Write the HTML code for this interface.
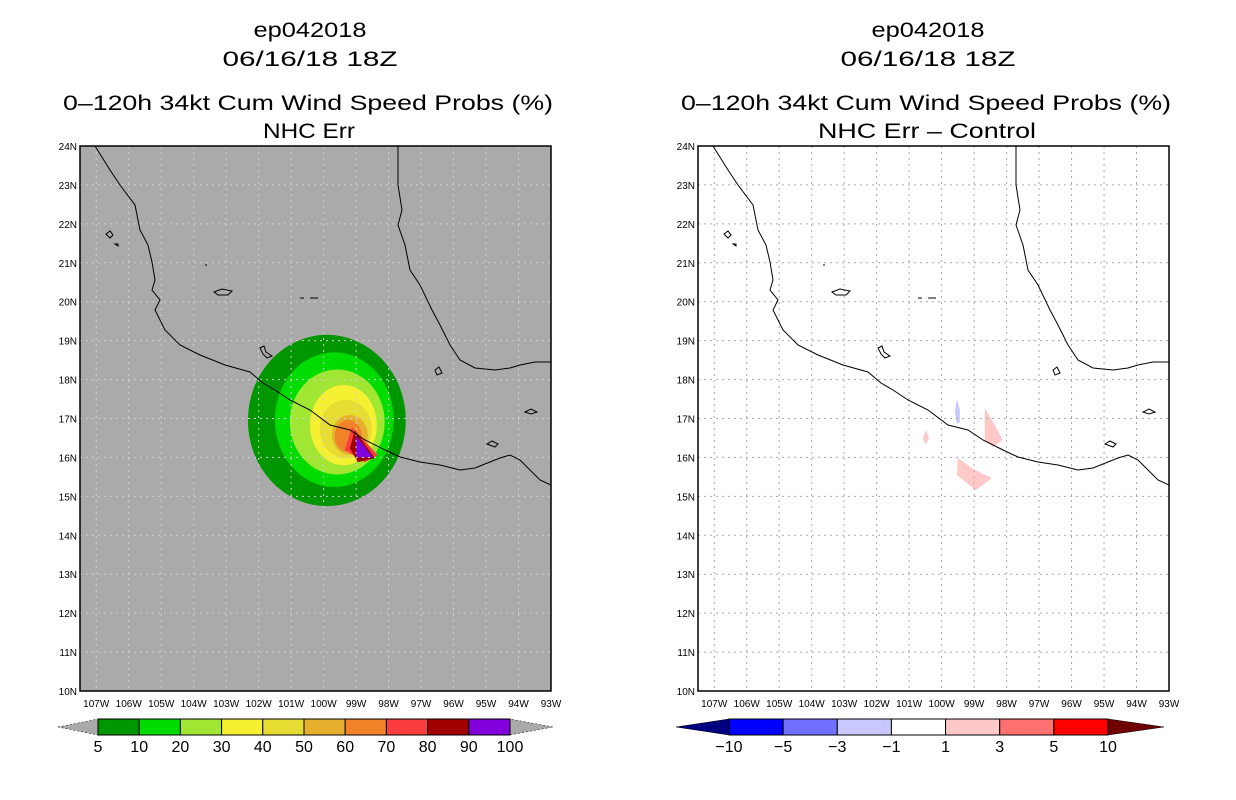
<!DOCTYPE html>
<html><head><meta charset="utf-8"><style>
body{margin:0;background:#fff;}
svg{display:block;font-family:"Liberation Sans",sans-serif;}
</style></head><body>
<svg id="s" width="1236" height="800" viewBox="0 0 1236 800" xmlns="http://www.w3.org/2000/svg">
<g font-size="21" text-anchor="middle" fill="#000" lengthAdjust="spacingAndGlyphs">
<text x="310" y="37" textLength="113" lengthAdjust="spacingAndGlyphs">ep042018</text>
<text x="310" y="66" textLength="175" lengthAdjust="spacingAndGlyphs">06/16/18 18Z</text>
<text x="308" y="110" textLength="490" lengthAdjust="spacingAndGlyphs">0–120h 34kt Cum Wind Speed Probs (%)</text>
<text x="309" y="138" textLength="92" lengthAdjust="spacingAndGlyphs">NHC Err</text>
<text x="928" y="37" textLength="113" lengthAdjust="spacingAndGlyphs">ep042018</text>
<text x="928" y="66" textLength="175" lengthAdjust="spacingAndGlyphs">06/16/18 18Z</text>
<text x="926" y="110" textLength="490" lengthAdjust="spacingAndGlyphs">0–120h 34kt Cum Wind Speed Probs (%)</text>
<text x="927" y="138" textLength="218" lengthAdjust="spacingAndGlyphs">NHC Err – Control</text>
</g>
<g id="L"></g>
<g id="R"></g>
</svg>
<script>
const lonTicks=[-107,-106,-105,-104,-103,-102,-101,-100,-99,-98,-97,-96,-95,-94,-93];
const latTicks=[10,11,12,13,14,15,16,17,18,19,20,21,22,23,24];
const leftLevels=[5,10,20,30,40,50,60,70,80,90,100];
const leftColors=["#009600","#00dc00","#a0e632","#f5f032","#e6dc32","#e6af2d","#f08228","#fa3c3c","#a00000","#8200dc"];
const rightLevels=["-10","-5","-3","-1","1","3","5","10"];
const rightColors=["#0000ff","#7070ff","#c8c8ff","#ffffff","#ffc8c8","#ff7070","#ff0000"];
const ellLevel=[0,1,2,3,4,5,6];
const ellLon=[-99.9,-99.67,-99.58,-99.39,-99.32,-99.19,-99.24];
const ellLat=[16.95,16.97,16.91,16.83,16.73,16.58,16.55];
const ellRx=[2.43,1.83,1.46,1.03,0.8,0.55,0.42];
const ellRy=[2.2,1.73,1.35,1.03,0.75,0.51,0.41];
const polyLeft=[
 {lev:7,pts:[[-99.13,16.78],[-98.33,16.06],[-98.73,15.88],[-99.35,16.19]]},
 {lev:8,pts:[[-99.04,16.7],[-98.42,15.98],[-98.95,15.88],[-99.19,16.24]]},
 {lev:9,pts:[[-99.0,16.55],[-98.48,16.0],[-99.0,16.0]]}
];
const polyRight=[
 {lev:2,pts:[[-99.53,17.5],[-99.44,17.22],[-99.44,16.91],[-99.53,16.86],[-99.59,17.17]]},
 {lev:4,pts:[[-98.67,17.27],[-98.36,16.83],[-98.12,16.45],[-98.42,16.27],[-98.67,16.45]]},
 {lev:4,pts:[[-100.48,16.7],[-100.39,16.5],[-100.48,16.32],[-100.58,16.5]]},
 {lev:4,pts:[[-99.5,15.99],[-98.98,15.68],[-98.45,15.47],[-98.95,15.16],[-99.53,15.55]]}
];
const NS="http://www.w3.org/2000/svg";
function mk(t,a,p){const e=document.createElementNS(NS,t);for(const k in a)e.setAttribute(k,a[k]);p.appendChild(e);return e;}
const W=471,H=545,Y0=146;
function xs(x0){return lon=>x0+(lon+107.5)*W/14.5;}
function ys(lat){return Y0+H-(lat-10)*H/14;}
const pac="M95,146 L110,170 L120,185 L135,205 L140,230 L148,245 L152,262 L155,280 L152,290 L160,300 L155,310 L165,330 L180,345 L200,355 L225,365 L250,372 L263,383 L275,390 L290,400 L310,410 L330,425 L350,430 L365,440 L385,450 L400,457 L420,462 L440,465 L460,470 L475,468 L490,462 L500,458 L510,455 L520,460 L530,470 L540,480 L551,485";
const gulf="M398,146 L398,185 L402,210 L398,225 L405,245 L410,270 L420,285 L432,310 L440,325 L450,345 L460,360 L475,368 L495,370 L510,368 L520,365 L535,362 L551,362";
const isl="M106,234 l4,-3 l3,4 l-3,3z M115,244 l3,0 l0,2z M214,292 l8,-3 l10,2 l-4,4 l-10,0z M260,348 l4,-2 l2,6 l6,4 l-5,2 l-4,-4z M300,298 l4,0 M310,298 l8,0 M435,370 l4,-3 l3,6 l-5,2z M525,412 l6,-3 l6,3 l-6,2z M487,444 l5,-3 l6,3 l-3,3z M205,265 l2,0";
function panel(g,x0,bg,right){
 const X=xs(x0);
 const cp="cp"+x0;
 const d=mk("defs",{},g);const c=mk("clipPath",{id:cp},d);mk("rect",{x:x0,y:Y0,width:W,height:H},c);
 const bgR=mk("rect",{x:x0,y:Y0,width:W,height:H,fill:bg},g);
 
 
 const sh=mk("g",{"clip-path":"url(#"+cp+")"},g);
 
 
 if(!right){
  ellLevel.forEach((lv,i)=>{
   const e=mk("ellipse",{cx:X(ellLon[i]),cy:ys(ellLat[i]),rx:ellRx[i]*W/14.5,ry:ellRy[i]*H/14,fill:leftColors[lv]},sh);
   
   
  });
 }
 (right?polyRight:polyLeft).forEach(p=>{
  const e=mk("polygon",{points:p.pts.map(q=>X(q[0])+","+ys(q[1])).join(" "),fill:(right?rightColors:leftColors)[p.lev]},sh);
  
  
 });
 const gr=mk("g",{stroke:right?"#aaaaaa":"#d0d0d0","stroke-width":1,"stroke-dasharray":"2,4"},g);
 
 
 lonTicks.slice(0,-1).forEach(l=>mk("line",{x1:X(l),x2:X(l),y1:Y0,y2:Y0+H},gr));
 latTicks.slice(1,-1).forEach(l=>mk("line",{x1:x0,x2:x0+W,y1:ys(l),y2:ys(l)},gr));
 const cw=mk("g",{"clip-path":"url(#"+cp+")"},g);
 const co=mk("g",{transform:"translate("+(x0-80)+",0)",fill:"none",stroke:"#000","stroke-width":1},cw);
 
 
 mk("path",{d:pac},co);mk("path",{d:gulf},co);mk("path",{d:isl},co);
 const fr=mk("rect",{x:x0,y:Y0,width:W,height:H,fill:"none",stroke:"#000","stroke-width":1.5},g);
 
 
 const tl=mk("g",{"font-size":"10",fill:"#000"},g);
 
 
 latTicks.forEach(l=>{const t=mk("text",{x:x0-3,y:ys(l)+4,"text-anchor":"end"},tl);t.textContent=l+"N";
  
  });
 lonTicks.forEach(l=>{const t=mk("text",{x:X(l),y:Y0+H+16,"text-anchor":"middle"},tl);t.textContent=(-l)+"W";
  
  });
 const cb=mk("g",{},g);
 
 
 const y1=719,y2=735,ym=727;
 let bx0,bx1,tl0,tr1,cols,labs,lc,rc;
 if(!right){bx0=98;bx1=510;tl0=58;tr1=553;cols=leftColors;labs=leftLevels;lc="#aaaaaa";rc="#aaaaaa";}
 else{bx0=729;bx1=1108;tl0=676;tr1=1164;cols=rightColors;labs=rightLevels;lc="#000080";rc="#6e0000";}
 const sw=(bx1-bx0)/cols.length;
 mk("polygon",{points:`${tl0},${ym} ${bx0},${y1} ${bx0},${y2}`,fill:lc,stroke:"#000","stroke-width":0.5,"stroke-dasharray":right?"":"2,2"},cb);
 mk("polygon",{points:`${tr1},${ym} ${bx1},${y1} ${bx1},${y2}`,fill:rc,stroke:"#000","stroke-width":0.5,"stroke-dasharray":right?"":"2,2"},cb);
 cols.forEach((c,i)=>{const r=mk("rect",{x:bx0+i*sw,y:y1,width:sw,height:y2-y1,fill:c,stroke:"#000","stroke-width":1},cb);
  
  });
 labs.forEach((v,i)=>{const t=mk("text",{x:bx0+i*sw,y:752,"text-anchor":"middle","font-size":"16"},cb);t.textContent=String(v).replace("-","−");
  
  });
}
panel(document.getElementById("L"),80,"#aaaaaa",false);
panel(document.getElementById("R"),698,"#ffffff",true);
</script>
</body></html>
